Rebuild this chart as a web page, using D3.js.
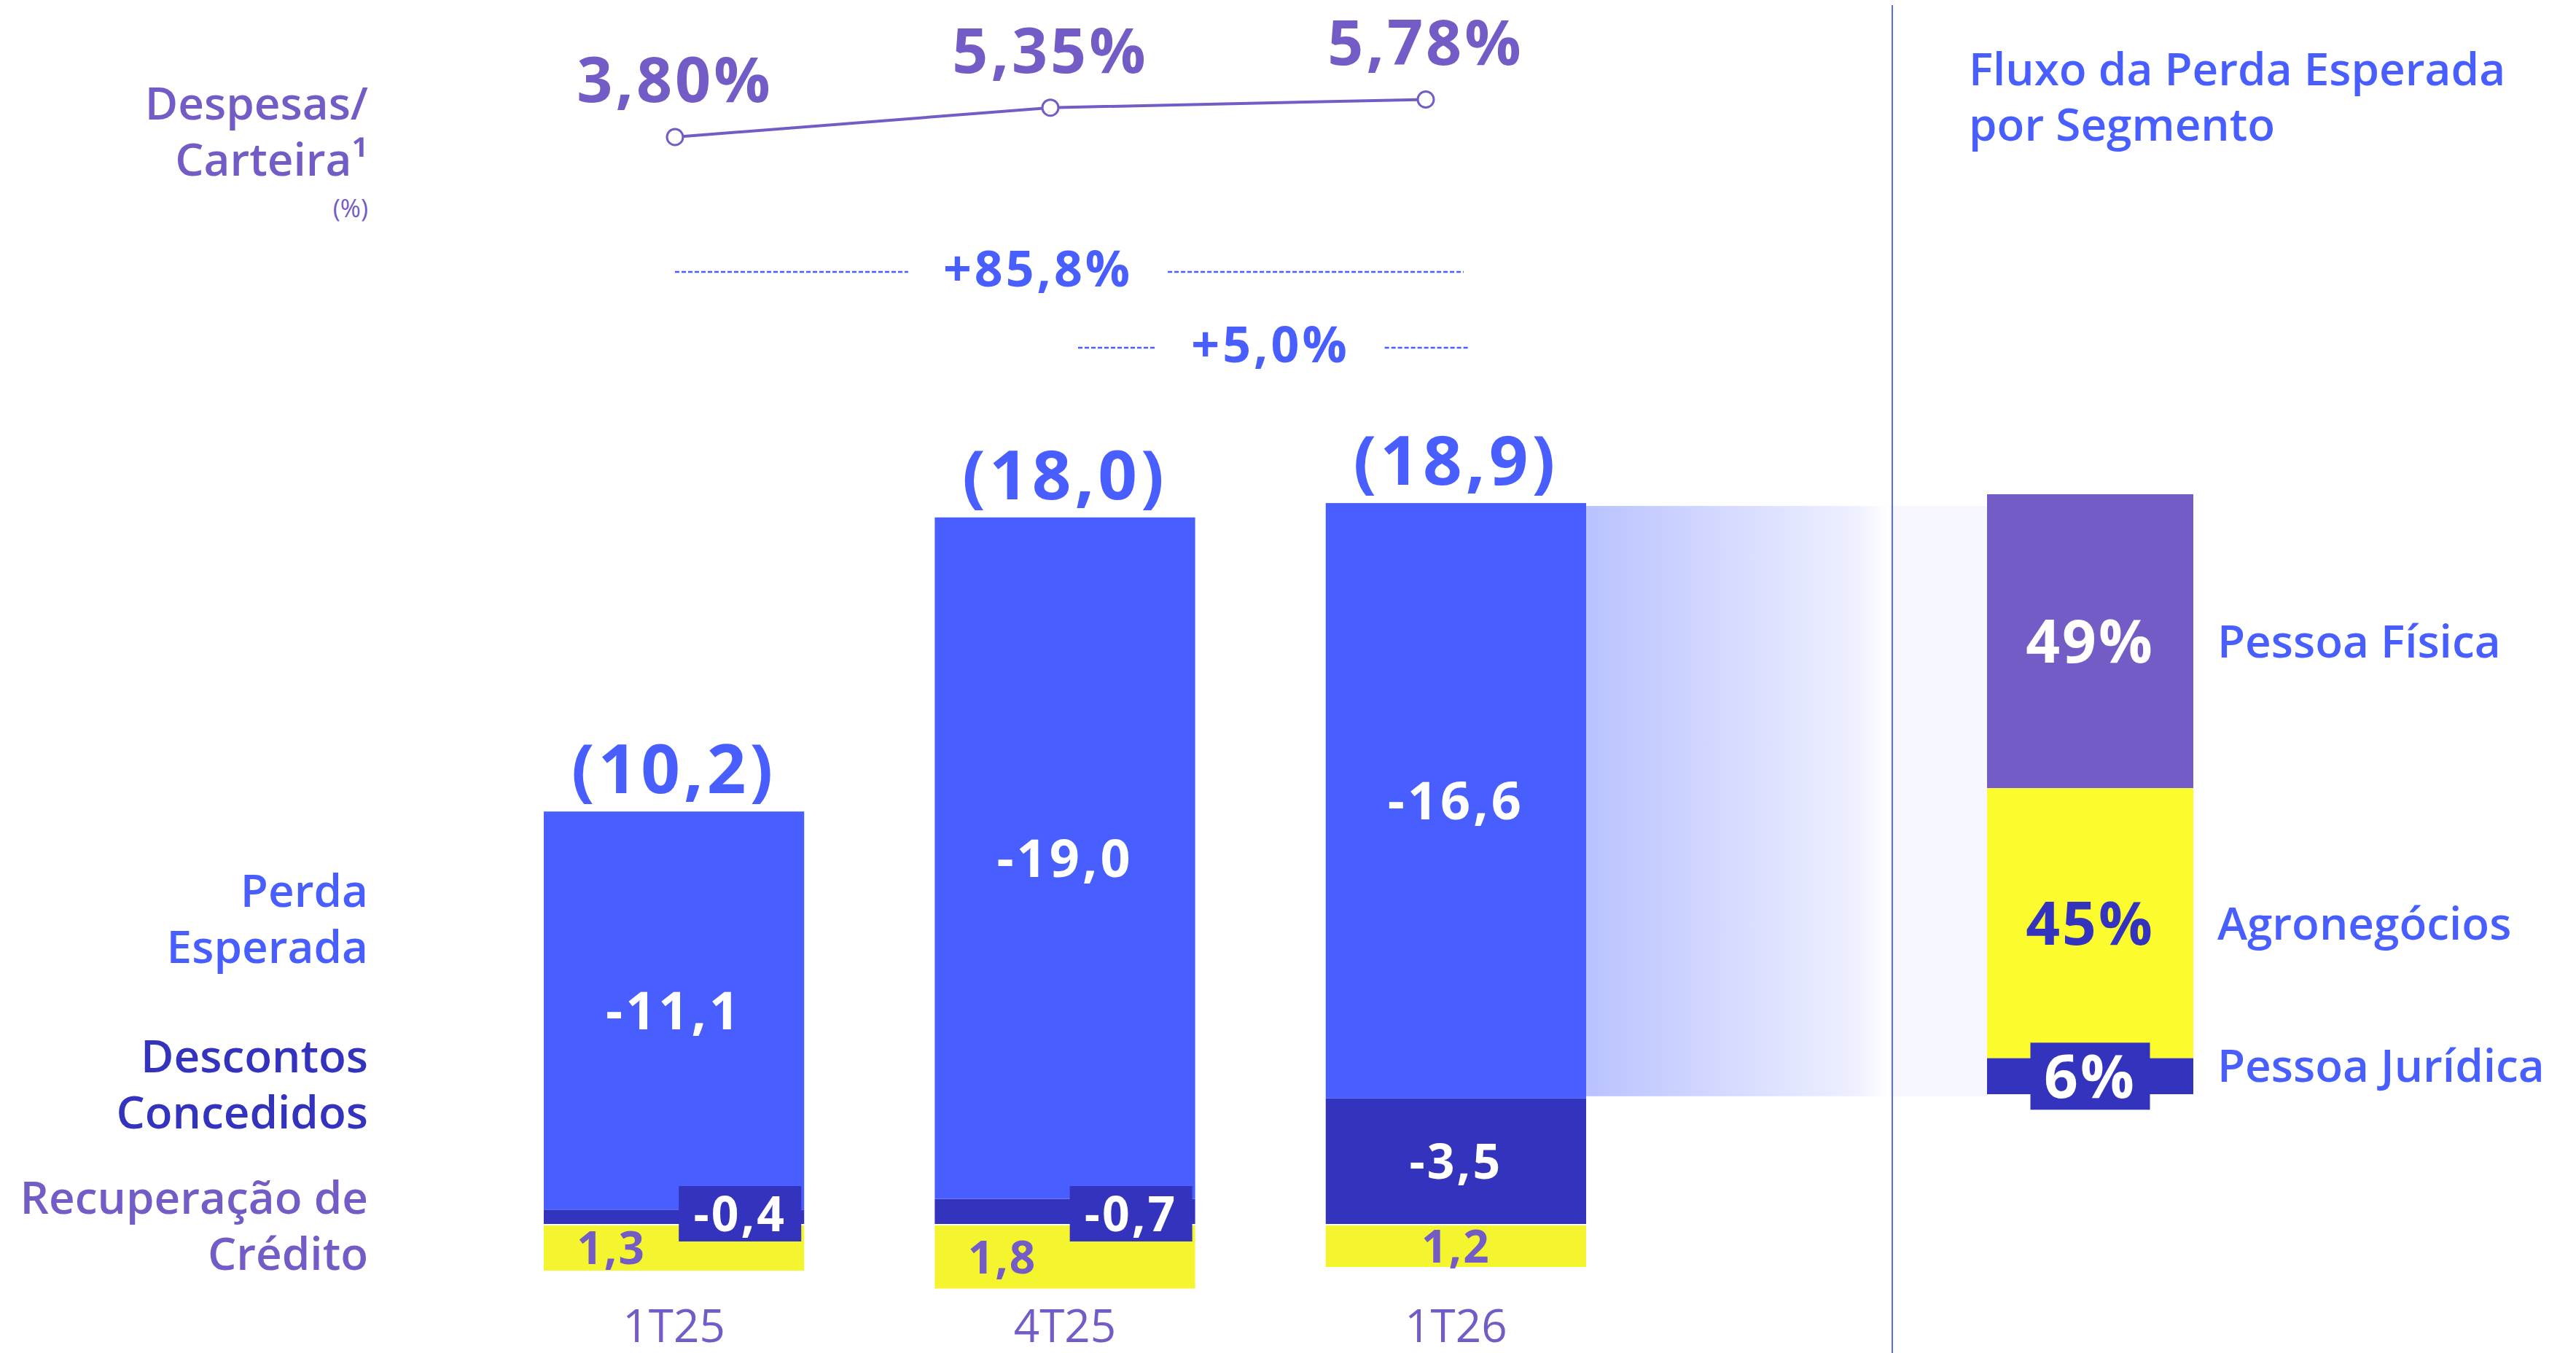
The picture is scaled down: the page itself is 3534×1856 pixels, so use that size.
<!DOCTYPE html>
<html>
<head>
<meta charset="utf-8">
<script src="https://cdn.jsdelivr.net/npm/d3@7"></script>
<style>
  body { margin: 0; background: #fff; }
  svg { display: block; font-family: "Open Sans", sans-serif; }
</style>
</head>
<body>
<svg id="chart" width="3534" height="1856"></svg>
<script>
// dados
var quarters = ["1T25", "4T25", "1T26"];
var perdaEsperada = [-11.1, -19.0, -16.6];
var descontos = [-0.4, -0.7, -3.5];
var recuperacao = [1.3, 1.8, 1.2];
var totais = [10.2, 18.0, 18.9];
var despesasCarteira = [3.80, 5.35, 5.78];
var variacaoLabels = ["+85,8%", "+5,0%"];
var segmentos = ["Pessoa Física", "Agronegócios", "Pessoa Jurídica"];
var segmentosPct = [49, 45, 6];

var BLUE = "#485eff", DARK = "#3433bd", YELLOW = "#f5f52f", SEG_YELLOW = "#fbfb2d", PURPLE = "#745cc6";

var ptBR = d3.formatLocale({ decimal: ",", thousands: ".", grouping: [3], currency: ["R$", ""], minus: "-" });
var f1 = ptBR.format(".1f");
var f2 = ptBR.format(".2f");

var svg = d3.select("#chart");
svg.append("rect").attr("width", 3534).attr("height", 1856).attr("fill", "#fff");

var x = d3.scaleBand().domain(quarters).range([746, 2176]).paddingInner(0.334).paddingOuter(0);
var y = d3.scaleLinear().domain([0, -20]).range([1679, 695]);
var bw = x.bandwidth();

// faixa em degrade ate a barra de segmentos
var defs = svg.append("defs");
var grad = defs.append("linearGradient").attr("id", "fade")
  .attr("gradientUnits", "userSpaceOnUse")
  .attr("x1", 2176).attr("x2", 2726).attr("y1", 0).attr("y2", 0);
[[0, 0.38], [0.68, 0.09], [0.755, 0.0], [0.762, 0.05], [1, 0.05]].forEach(function (s) {
  grad.append("stop").attr("offset", s[0]).attr("stop-color", BLUE).attr("stop-opacity", s[1]);
});
var last = quarters.length - 1;
svg.append("rect")
  .attr("x", x(quarters[last]) + bw)
  .attr("y", y(descontos[last] + perdaEsperada[last]) + 4)
  .attr("width", 2726 - (x(quarters[last]) + bw))
  .attr("height", y(descontos[last]) - y(descontos[last] + perdaEsperada[last]) - 7)
  .attr("fill", "url(#fade)");

// barras empilhadas
var bars = svg.append("g");
quarters.forEach(function (q, i) {
  var x0 = x(q);
  // descontos (base)
  bars.append("rect").attr("x", x0).attr("width", bw)
    .attr("y", y(descontos[i])).attr("height", y(0) - y(descontos[i]))
    .attr("fill", DARK);
  // perda esperada
  bars.append("rect").attr("x", x0).attr("width", bw)
    .attr("y", y(descontos[i] + perdaEsperada[i]))
    .attr("height", y(descontos[i]) - y(descontos[i] + perdaEsperada[i]))
    .attr("fill", BLUE);
  // recuperacao (para baixo)
  bars.append("rect").attr("x", x0).attr("width", bw)
    .attr("y", y(0) + 2).attr("height", y(recuperacao[i]) - y(0) - 2)
    .attr("fill", YELLOW);

  var cx = x0 + bw / 2;
  // total acima
  bars.append("text").attr("x", cx).attr("y", y(descontos[i] + perdaEsperada[i]) - 25)
    .attr("text-anchor", "middle").attr("font-size", 94).attr("font-weight", 700)
    .attr("letter-spacing", 5).attr("fill", BLUE).text("(" + f1(totais[i]) + ")");
  // valor perda
  bars.append("text").attr("x", cx)
    .attr("y", (y(descontos[i]) + y(descontos[i] + perdaEsperada[i])) / 2)
    .attr("dy", "0.36em").attr("text-anchor", "middle").attr("font-size", 72).attr("font-weight", 700)
    .attr("letter-spacing", 4).attr("fill", "#fff").text(f1(perdaEsperada[i]));

  var dh = y(0) - y(descontos[i]);
  var yc = (y(0) + y(recuperacao[i])) / 2 + 1;
  if (dh < 60) {
    // caixa para desconto pequeno
    var boxW = 168, boxH = 76, bx = x0 + bw - 4 - boxW, by = 1627;
    bars.append("rect").attr("x", bx).attr("y", by).attr("width", boxW).attr("height", boxH).attr("fill", DARK);
    bars.append("text").attr("x", bx + boxW / 2).attr("y", by + boxH / 2).attr("dy", "0.36em")
      .attr("text-anchor", "middle").attr("font-size", 66).attr("font-weight", 700)
      .attr("letter-spacing", 3).attr("fill", "#fff").text(f1(descontos[i]));
    bars.append("text").attr("x", (x0 + bx) / 2).attr("y", yc).attr("dy", "0.36em")
      .attr("text-anchor", "middle").attr("font-size", 62).attr("font-weight", 700)
      .attr("letter-spacing", 2).attr("fill", PURPLE).text(f1(recuperacao[i]));
  } else {
    bars.append("text").attr("x", cx).attr("y", (y(0) + y(descontos[i])) / 2).attr("dy", "0.36em")
      .attr("text-anchor", "middle").attr("font-size", 66).attr("font-weight", 700)
      .attr("letter-spacing", 3).attr("fill", "#fff").text(f1(descontos[i]));
    bars.append("text").attr("x", cx).attr("y", yc).attr("dy", "0.36em")
      .attr("text-anchor", "middle").attr("font-size", 62).attr("font-weight", 700)
      .attr("letter-spacing", 2).attr("fill", PURPLE).text(f1(recuperacao[i]));
  }
});

// eixo x
var xAxis = svg.append("g").attr("transform", "translate(0,1796)")
  .call(d3.axisBottom(x).tickSize(0).tickPadding(0));
xAxis.select(".domain").remove();
xAxis.selectAll("text").attr("font-size", 62).attr("font-family", "Open Sans, sans-serif")
  .attr("fill", PURPLE).attr("dy", "0.72em");

// linha despesas/carteira
var xl = d3.scalePoint().domain(quarters).range([926, 1956]);
var yl = d3.scaleLinear().domain([3.8, 5.78]).range([188, 136.5]);
var line = d3.line().x(function (d, i) { return xl(quarters[i]); }).y(function (d) { return yl(d); });
svg.append("path").datum(despesasCarteira).attr("d", line)
  .attr("fill", "none").attr("stroke", PURPLE).attr("stroke-width", 4);
svg.selectAll(".pt").data(despesasCarteira).enter().append("circle")
  .attr("cx", function (d, i) { return xl(quarters[i]); })
  .attr("cy", function (d) { return yl(d); })
  .attr("r", 11).attr("fill", "#fff").attr("stroke", PURPLE).attr("stroke-width", 3);
svg.selectAll(".ptl").data(despesasCarteira).enter().append("text")
  .attr("x", function (d, i) { return xl(quarters[i]); })
  .attr("y", function (d) { return yl(d) - 48; })
  .attr("text-anchor", "middle").attr("font-size", 86).attr("font-weight", 700)
  .attr("letter-spacing", 4).attr("fill", PURPLE).text(function (d) { return f2(d) + "%"; });

// variacoes tracejadas
var varLayout = [{ x0: 926, x1: 2008, cx: 1424, y: 373 }, { x0: 1479, x1: 2014, cx: 1743, y: 477 }];
variacaoLabels.forEach(function (lbl, i) {
  var L = varLayout[i];
  var t = svg.append("text").attr("x", L.cx).attr("y", L.y).attr("dy", "0.3em")
    .attr("text-anchor", "middle").attr("font-size", 68).attr("font-weight", 700)
    .attr("letter-spacing", 4).attr("fill", BLUE).text(lbl);
  var w = t.node().getComputedTextLength();
  [[L.x0, L.cx - w / 2 - 48], [L.cx + w / 2 + 48, L.x1]].forEach(function (s) {
    svg.append("line").attr("x1", s[0]).attr("x2", s[1]).attr("y1", L.y).attr("y2", L.y)
      .attr("stroke", BLUE).attr("stroke-width", 2.5).attr("stroke-dasharray", "6,3");
  });
});

// rotulos da esquerda
var leftLabels = [
  ["Despesas/", 164, PURPLE, 62, 600], ["Carteira\u00b9", 241, PURPLE, 62, 600], ["(%)", 298, PURPLE, 34, 400],
  ["Perda", 1244, BLUE, 62, 600], ["Esperada", 1321, BLUE, 62, 600],
  ["Descontos", 1471, DARK, 62, 600], ["Concedidos", 1548, DARK, 62, 600],
  ["Recuperação de", 1665, PURPLE, 62, 600], ["Crédito", 1742, PURPLE, 62, 600]
];
leftLabels.forEach(function (l) {
  svg.append("text").attr("x", 505).attr("y", l[1]).attr("text-anchor", "end")
    .attr("font-size", l[3]).attr("font-weight", l[4]).attr("fill", l[2]).text(l[0]);
});

// divisor
svg.append("line").attr("x1", 2596).attr("x2", 2596).attr("y1", 7).attr("y2", 1856)
  .attr("stroke", "#5b6cf2").attr("stroke-width", 2);

// painel de segmentos
svg.append("text").attr("x", 2701).attr("y", 117).attr("font-size", 62).attr("font-weight", 600)
  .attr("fill", BLUE).text("Fluxo da Perda Esperada");
svg.append("text").attr("x", 2701).attr("y", 193).attr("font-size", 62).attr("font-weight", 600)
  .attr("fill", BLUE).text("por Segmento");

var ys = d3.scaleLinear().domain([0, 100]).range([678, 1501]);
var segX = 2726, segW = 283;
var segFill = [PURPLE, SEG_YELLOW, DARK];
var segText = ["#fff", DARK, "#fff"];
var labelNudge = [0, 0, -15];
var acc = 0;
segmentosPct.forEach(function (p, i) {
  var y0 = ys(acc), y1 = ys(acc + p);
  acc += p;
  svg.append("rect").attr("x", segX).attr("y", y0).attr("width", segW).attr("height", y1 - y0)
    .attr("fill", segFill[i]);
  var cy = (y0 + y1) / 2;
  if (y1 - y0 < 80) {
    svg.append("rect").attr("x", segX + segW / 2 - 82).attr("y", cy - 46)
      .attr("width", 164).attr("height", 92).attr("fill", segFill[i]);
  }
  svg.append("text").attr("x", segX + segW / 2).attr("y", cy).attr("dy", "0.36em")
    .attr("text-anchor", "middle").attr("font-size", 82).attr("font-weight", 700)
    .attr("letter-spacing", 3).attr("fill", segText[i]).text(p + "%");
  svg.append("text").attr("x", 3042).attr("y", cy + labelNudge[i]).attr("dy", "0.36em")
    .attr("font-size", 62).attr("font-weight", 600).attr("fill", BLUE).text(segmentos[i]);
});
</script>
</body>
</html>
